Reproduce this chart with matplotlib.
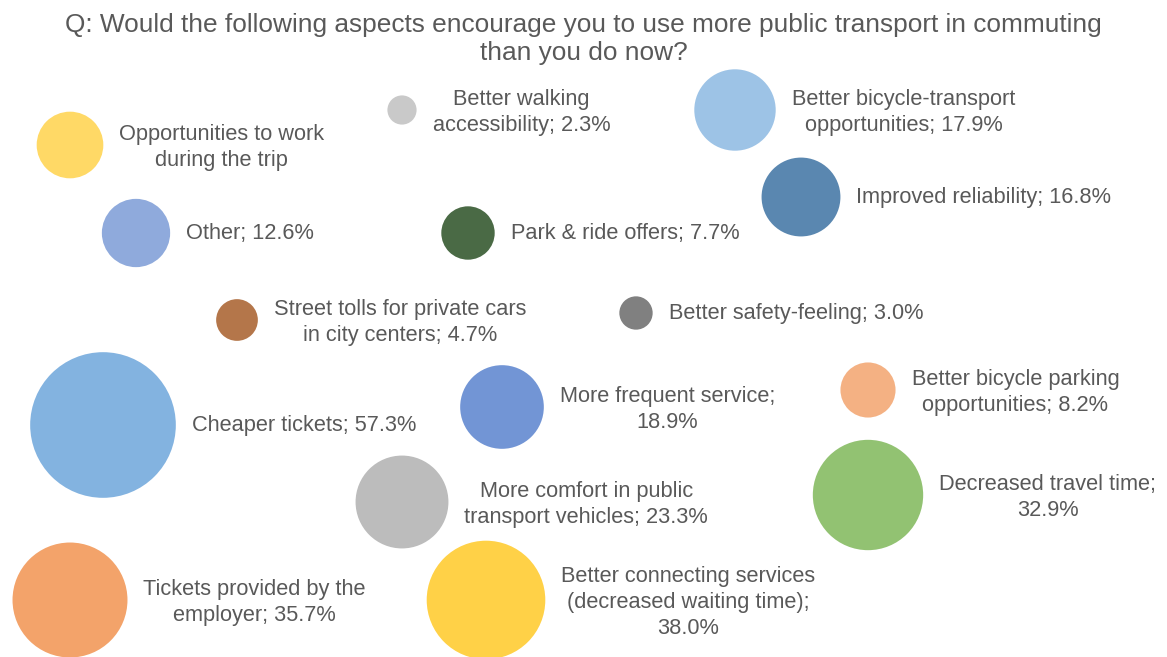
import numpy as np
import matplotlib
matplotlib.use("Agg")
import matplotlib.pyplot as plt

# survey answers: share of respondents per aspect (%)
label_fmt = [
    "Opportunities to work\nduring the trip",
    "Better walking\naccessibility; {:.1f}%",
    "Better bicycle-transport\nopportunities; {:.1f}%",
    "Improved reliability; {:.1f}%",
    "Other; {:.1f}%",
    "Park & ride offers; {:.1f}%",
    "Street tolls for private cars\nin city centers; {:.1f}%",
    "Better safety-feeling; {:.1f}%",
    "Cheaper tickets; {:.1f}%",
    "More frequent service;\n{:.1f}%",
    "Better bicycle parking\nopportunities; {:.1f}%",
    "More comfort in public\ntransport vehicles; {:.1f}%",
    "Decreased travel time;\n{:.1f}%",
    "Tickets provided by the\nemployer; {:.1f}%",
    "Better connecting services\n(decreased waiting time);\n{:.1f}%",
]
share = [12.0, 2.3, 17.9, 16.8, 12.6, 7.7, 4.7, 3.0, 57.3, 18.9, 8.2, 23.3, 32.9, 35.7, 38.0]

# bubble placement on the (hidden) x / y axes
x_pos = [70, 402, 735, 801, 136, 468, 237, 636, 103, 502, 868, 402, 868, 70, 486]
y_pos = [145, 110, 110, 197, 233, 233, 320, 313, 425, 407, 390, 502, 495, 600, 600]

colors = ["#FFD966", "#C9C9C9", "#9DC3E6", "#5A87B0", "#8FAADC", "#4A6A45",
          "#B4764A", "#808080", "#83B3E0", "#7295D5", "#F4B183", "#BCBCBC",
          "#92C272", "#F3A36A", "#FFD147"]

plt.rcParams['font.family'] = ['Liberation Sans', 'DejaVu Sans']
TEXT = "#595959"
DPI = 100

fig = plt.figure(figsize=(11.67, 6.57), dpi=DPI)
ax = fig.add_axes([0, 0, 1, 1])
ax.set_xlim(0, 1167)
ax.set_ylim(657, 0)
ax.axis('off')

# bubble radius in pixels grows with the square root of the share
share = np.array(share)
r_px = 9.62 * np.sqrt(share)
diam_pt = 2 * r_px * 72 / DPI
ax.scatter(x_pos, y_pos, s=diam_pt ** 2, c=colors, edgecolors='none', zorder=2)

# data labels sit to the right of each bubble
for x, y, v, r, fmt in zip(x_pos, y_pos, share, r_px, label_fmt):
    n_lines = fmt.count("\n") + 1
    dy = -2.0 if n_lines > 1 else 0.0
    ax.annotate(fmt.format(v), (x, y), xytext=((r + 16) * 72 / DPI, dy),
                textcoords='offset points', ha='left', va='center',
                multialignment='center', fontsize=15.7, color=TEXT,
                linespacing=1.3, zorder=3)

fig.text(0.5, 1 - 39 / 657,
         "Q: Would the following aspects encourage you to use more public transport in commuting\nthan you do now?",
         ha='center', va='center', fontsize=18.9, color=TEXT, linespacing=1.2)

fig.savefig("out.png", dpi=DPI)
